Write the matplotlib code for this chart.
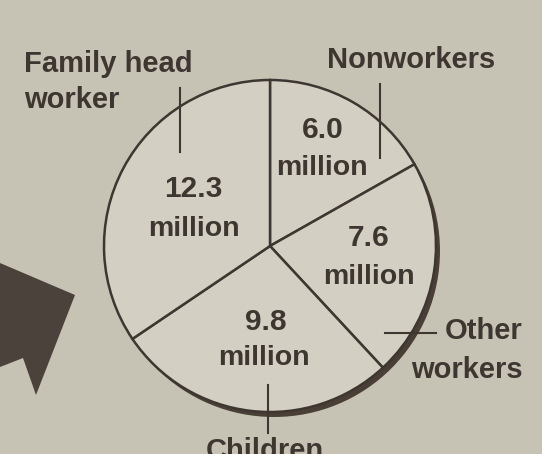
import matplotlib
matplotlib.use('Agg')
import matplotlib.pyplot as plt
from matplotlib.patches import Circle, Polygon

# data (millions)
labels = ['Nonworkers', 'Other\nworkers', 'Children', 'Family head\nworker']
values = [6.0, 7.6, 9.8, 12.3]

plt.rcParams['font.family'] = ['Liberation Sans', 'DejaVu Sans']

bg = '#c6c2b4'
face = '#d4cfc3'
ink = '#3e3731'

fig = plt.figure(figsize=(5.42, 4.54), dpi=100, facecolor=bg)
ax = fig.add_axes([0, 0, 1, 1])
ax.set_facecolor(bg)

H = 454
cx, cy, r = 270, H - 246, 166

# shadow under pie
ax.add_patch(Circle((cx + 4, cy - 5), r, facecolor='#4a3f36', edgecolor='none', zorder=1))

wedges, _ = ax.pie(values, startangle=90, counterclock=False, center=(cx, cy), radius=r,
                   colors=[face] * 4, frame=True,
                   wedgeprops=dict(edgecolor=ink, linewidth=1.8))
for w in wedges:
    w.set_zorder(2)

# dark arrow on the left
ax.add_patch(Polygon([(0, H - 263), (75, H - 295), (36, H - 395), (23, H - 358), (0, H - 367)],
                     closed=True, facecolor='#4b423c', edgecolor='none', zorder=1))

# inner value labels (number, then "million" below)
num_pos = [(323, 130), (369, 238), (266, 322), (193, 189)]
mil_pos = [(322, 168), (369, 277), (264, 358), (194, 229)]
for v, (x1, y1), (x2, y2) in zip(values, num_pos, mil_pos):
    ax.text(x1, H - y1, '%.1f' % v, ha='center', va='center', fontsize=21.5,
            fontweight='bold', color=ink, zorder=3)
    ax.text(x2, H - y2, 'million', ha='center', va='center', fontsize=20.5,
            fontweight='bold', color=ink, zorder=3)

# leader lines
lw = 1.5
ax.plot([180, 180], [H - 88, H - 152], color=ink, lw=lw, zorder=3)
ax.plot([380, 380], [H - 84, H - 158], color=ink, lw=lw, zorder=3)
ax.plot([385, 436], [H - 333, H - 333], color=ink, lw=lw, zorder=3)
ax.plot([268, 268], [H - 385, H - 433], color=ink, lw=lw, zorder=3)

# outer labels
fs = 21
ax.text(24, H - 50, labels[3], ha='left', va='top', fontsize=fs, color=ink,
        linespacing=1.35, fontweight='bold')
ax.text(411, H - 60, labels[0], ha='center', va='center', fontsize=fs, color=ink,
        fontweight='bold')
ax.text(523, H - 317, labels[1], ha='right', va='top', fontsize=fs, color=ink,
        linespacing=1.5, multialignment='right', fontweight='bold')
ax.text(265, H - 437, labels[2], ha='center', va='top', fontsize=fs, color=ink,
        fontweight='bold')

ax.set_xlim(0, 542)
ax.set_ylim(0, H)
ax.set_aspect('auto')
ax.axis('off')

fig.savefig('out.png', dpi=100, facecolor=bg)
